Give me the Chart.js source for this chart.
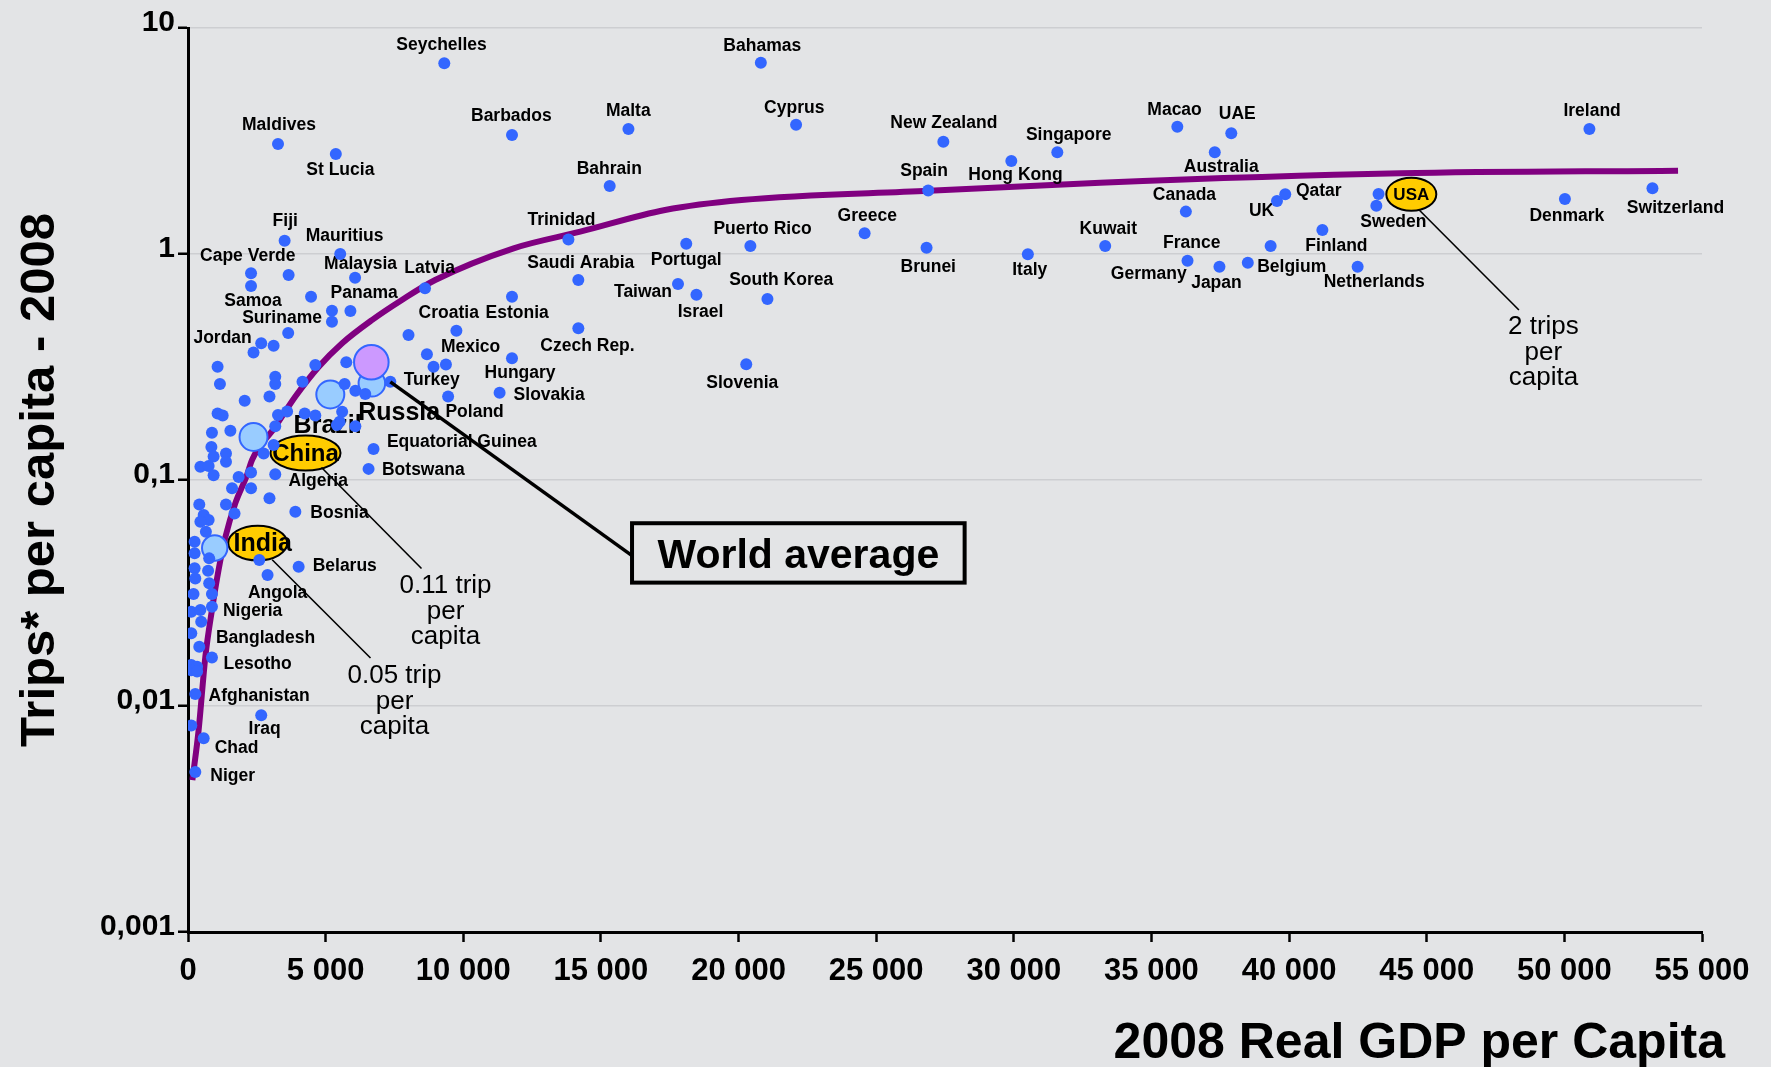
<!DOCTYPE html>
<html>
<head>
<meta charset="utf-8">
<title>Trips per capita vs 2008 real GDP per capita</title>
<script src="https://cdn.jsdelivr.net/npm/chart.js@4.4.1/dist/chart.umd.min.js"></script>
<style>
  html, body { margin: 0; padding: 0; background: #e3e4e6; }
  #wrap { width: 1771px; height: 1067px; }
</style>
</head>
<body>
<div id="wrap"><canvas id="tripsChart" width="1771" height="1067"></canvas></div>
<script>
// Values: GDP per capita (x) and trips per capita (y, log scale).

const countryNames = [
	'Seychelles', 'Bahamas', 'Maldives', 'St Lucia', 'Barbados', 'Malta', 'Cyprus',
	'New Zealand', 'Hong Kong', 'Singapore', 'Bahrain', 'Spain', 'Trinidad', 'Greece',
	'Portugal', 'Puerto Rico', 'Brunei', 'Italy', 'Kuwait', 'Saudi Arabia', 'Taiwan',
	'Israel', 'South Korea', 'Czech Rep.', 'Slovenia', 'Estonia', 'Latvia', 'Croatia',
	'Mexico', 'Hungary', 'Slovakia', 'Poland', 'Turkey', 'Equatorial Guinea', 'Botswana',
	'Fiji', 'Mauritius', 'Malaysia', 'Cape Verde', 'Samoa', 'Panama', 'Suriname', 'Jordan',
	'Macao', 'UAE', 'Australia', 'Ireland', 'Canada', 'UK', 'Qatar', 'Sweden', 'Denmark',
	'Switzerland', 'Finland', 'France', 'Japan', 'Belgium', 'Netherlands',
	'Algeria', 'Bosnia', 'Belarus', 'Angola', 'Nigeria', 'Bangladesh', 'Lesotho',
	'Afghanistan', 'Iraq', 'Chad', 'Niger'
];
const countryGdp = [
	9310, 20810, 3270, 5370, 11770, 16000, 22090,
	27440, 29910, 31580, 15320, 26890, 13820, 24580,
	18100, 20430, 26830, 30510, 33320, 14180, 17800,
	18470, 21050, 14180, 20280, 11770, 8610, 9750,
	9370, 11770, 11320, 9450, 7350, 6740, 6560,
	3510, 5530, 6070, 2290, 2290, 5900, 3640, 2660,
	35940, 37900, 37300, 50910, 36250, 39560, 39860, 43170, 50020,
	53200, 39330, 36310, 37470, 38500, 42490,
	3170, 3900, 4020, 2890, 870, 410, 870,
	265, 2660, 570, 265
];
const countryTrips = [
	6.98, 7.02, 3.07, 2.77, 3.36, 3.57, 3.73,
	3.14, 2.58, 2.82, 2.00, 1.91, 1.16, 1.235,
	1.11, 1.085, 1.066, 0.997, 1.085, 0.767, 0.737,
	0.66, 0.632, 0.469, 0.325, 0.647, 0.705, 0.458,
	0.324, 0.3455, 0.243, 0.234, 0.272, 0.137, 0.112,
	1.145, 1.0, 0.785, 0.821, 0.722, 0.56, 0.447, 0.403,
	3.66, 3.42, 2.82, 3.57, 1.54, 1.716, 1.837, 1.636, 1.752,
	1.955, 1.085, 0.934, 0.879, 0.915, 0.879,
	0.106, 0.0724, 0.0413, 0.038, 0.0275, 0.0183, 0.0164,
	0.0113, 0.0091, 0.0072, 0.0051
];

// countries plotted without a name
const otherGdp = [
	43250, 41210, 2590, 120, 3655, 4470, 5230, 5230, 3110, 2380,
	8010, 8680, 8920, 1075, 4625, 5750, 3170, 1160, 3170, 4160,
	5690, 6080, 6440, 2060, 2960, 1075, 1260, 3270, 3600, 4240,
	4625, 5600, 5510, 5410, 6080, 870, 1540, 3170, 850, 930,
	1380, 1380, 450, 750, 3110, 2750, 2290, 1840, 930, 1600,
	2290, 2960, 410, 1380, 1690, 570, 750, 450, 650, 240,
	240, 770, 240, 730, 265, 770, 200, 870, 120, 450,
	480, 120, 120, 330, 120, 330
];
const otherTrips = [
	1.843, 1.277, 0.0443, 0.0082, 0.807, 0.647, 0.561, 0.502, 0.393, 0.367,
	0.438, 0.36, 0.317, 0.317, 0.323, 0.332, 0.2865, 0.266, 0.266, 0.272,
	0.266, 0.248, 0.240, 0.224, 0.234, 0.197, 0.193, 0.194, 0.201, 0.197,
	0.193, 0.2005, 0.181, 0.175, 0.173, 0.162, 0.165, 0.173, 0.140, 0.127,
	0.131, 0.1205, 0.1145, 0.1153, 0.143, 0.131, 0.108, 0.103, 0.105, 0.092,
	0.092, 0.083, 0.078, 0.078, 0.071, 0.070, 0.0665, 0.0654, 0.059, 0.0533,
	0.0474, 0.045, 0.0407, 0.0397, 0.0367, 0.0349, 0.0313, 0.0313, 0.0261, 0.0266,
	0.0236, 0.021, 0.0152, 0.0149, 0.0144, 0.0142
];

// large bubbles (World drawn last so it sits on top)
const bubbleNames = ['Russia', 'Brazil', 'China', 'India', 'World'];
const bubbleGdp = [6680, 5170, 2380, 970, 6660];
const bubbleTrips = [0.268, 0.239, 0.155, 0.050, 0.332];

const usaGdp = 44440;
const usaTrips = 1.84;

// world average curve
const averageGdp = [
	160, 385, 630, 870, 1110, 1360, 1720, 2140, 2330, 3170, 3900, 4750,
	5600, 6680, 7770, 8980, 11830, 14250, 17330, 20110, 26920, 33140, 44030, 54130
];
const averageTrips = [
	0.0047, 0.0078, 0.0165, 0.0266, 0.040, 0.056, 0.079, 0.105, 0.123, 0.172, 0.234, 0.317,
	0.403, 0.51, 0.626, 0.767, 1.06, 1.255, 1.566, 1.734, 1.905, 2.068, 2.275, 2.337
];

const xTicks = [0, 5000, 10000, 15000, 20000, 25000, 30000, 35000, 40000, 45000, 50000, 55000];
const yTicks = [0.001, 0.01, 0.1, 1, 10];

const xTitle = '2008 Real GDP per Capita';
const yTitle = 'Trips* per capita - 2008';


// ---- placement / style (pixels) ----
const FONT = 'Arial, "Liberation Sans", Helvetica, sans-serif';

// offset from the dot centre to the left end of the label's baseline
const labelOffsets = {
	'Seychelles': [-48, -13], 'Bahamas': [-37.5, -12], 'Maldives': [-36, -14],
	'St Lucia': [-29.5, 21], 'Barbados': [-41, -14], 'Malta': [-22.5, -13],
	'Cyprus': [-32, -12], 'New Zealand': [-53, -13.4], 'Hong Kong': [-43, 19],
	'Singapore': [-31.4, -12.3], 'Bahrain': [-33, -12], 'Spain': [-28, -14.7],
	'Trinidad': [-41, -14.3], 'Greece': [-27, -12.3], 'Portugal': [-35.5, 21.3],
	'Puerto Rico': [-37, -12], 'Brunei': [-26, 24], 'Italy': [-15.6, 20.7],
	'Kuwait': [-25.6, -11.7], 'Saudi Arabia': [-51, -12.3], 'Taiwan': [-64, 12.7],
	'Israel': [-18.8, 22], 'South Korea': [-38.3, -14], 'Czech Rep.': [-38, 22.4],
	'Slovenia': [-40, 24], 'Estonia': [-26.4, 21], 'Latvia': [-20.7, -15],
	'Croatia': [-37.8, -13], 'Mexico': [-5, -13], 'Hungary': [-27.4, 19.4],
	'Slovakia': [14, 7.3], 'Poland': [-2.7, 20], 'Turkey': [13.3, 3.3],
	'Equatorial Guinea': [13.4, -2.6], 'Botswana': [13.4, 6.3], 'Fiji': [-12, -14.7],
	'Mauritius': [-34.6, -13.3], 'Malaysia': [-31, -8.4], 'Cape Verde': [-51, -12.3],
	'Samoa': [-26.8, 19.7], 'Panama': [-19.8, -13.3], 'Suriname': [-46, -9.7],
	'Jordan': [-67.8, -0.6], 'Macao': [-30, -11.7], 'UAE': [-12.5, -14.3],
	'Australia': [-31, 19.4], 'Ireland': [-26, -13.3], 'Canada': [-33, -11.7],
	'UK': [-28, 14.7], 'Qatar': [10.7, 1.7], 'Sweden': [-16, 21],
	'Denmark': [-35.5, 21.7], 'Switzerland': [-25.6, 24.4], 'Finland': [34.7, 4.7],
	'France': [-24.4, -12.4], 'Germany': [-76.7, 17.8], 'Japan': [-28.3, 21.8],
	'Belgium': [9.4, 9], 'Netherlands': [-34, 20.6], 'Algeria': [13.3, 11.7],
	'Bosnia': [15, 6.6], 'Belarus': [14, 4], 'Angola': [-19.6, 22.7],
	'Nigeria': [11, 9], 'Bangladesh': [16.7, -3.4], 'Lesotho': [11.6, 11.6],
	'Afghanistan': [13.3, 6.7], 'Iraq': [-12.7, 18.3], 'Chad': [11, 15], 'Niger': [15, 9]
};
// labels whose dot is hidden under another country's dot
const labelAnchors = { 'Germany': 'France' };

const bigLabelOffsets = { 'Russia': [-13.7, 36.7], 'Brazil': [-36.7, 39] };

const bubbleStyle = {
	World: { r: 17.3, fill: '#cc99ff' },
	Russia: { r: 13.3, fill: '#99ccff' },
	Brazil: { r: 14, fill: '#99ccff' },
	China: { r: 14, fill: '#99ccff' },
	India: { r: 12.7, fill: '#99ccff' }
};

// yellow name tags: centre offset from their point, radii, font size
const tagShapes = {
	China: { dx: 52, dy: 16, rx: 35, ry: 17.5, size: 24, textDx: 0 },
	India: { dx: 43, dy: -5, rx: 29.5, ry: 17.3, size: 25, textDx: 5 },
	USA: { dx: 0, dy: 0, rx: 25, ry: 16.5, size: 17, textDx: 0 }
};

// thin leader lines from a tag down to a note; all relative to the tag centre
const callouts = [
	{ tag: 'China', lines: ['0.11 trip', 'per', 'capita'], from: [16, 14.5], to: [116, 115.5], text: [140, 140.5] },
	{ tag: 'India', lines: ['0.05 trip', 'per', 'capita'], from: [14.5, 16.7], to: [112.8, 115], text: [136.8, 140] },
	{ tag: 'USA', lines: ['2 trips', 'per', 'capita'], from: [7.9, 15.8], to: [107.6, 115.8], text: [132.1, 140.1] }
];

// World average box, relative to the World bubble
const worldBox = { from: [19, 19.7], to: [261, 193.7], left: 260.7, top: 161, w: 332.6, h: 59.4, textX: 427, textY: 206 };


function toPixel(chart, gdp, trips) {
	return [chart.scales.x.getPixelForValue(gdp), chart.scales.y.getPixelForValue(trips)];
}

function tagCenter(chart, name) {
	const s = tagShapes[name];
	let p;
	if (name === 'USA') {
		p = toPixel(chart, usaGdp, usaTrips);
	} else {
		const i = bubbleNames.indexOf(name);
		p = toPixel(chart, bubbleGdp[i], bubbleTrips[i]);
	}
	return [p[0] + s.dx, p[1] + s.dy];
}

function drawLabelsAndTags(chart) {
	const ctx = chart.ctx;
	ctx.save();
	ctx.fillStyle = '#000';
	ctx.textAlign = 'left';
	ctx.textBaseline = 'alphabetic';

	ctx.font = `bold 17.5px ${FONT}`;
	for (const [name, [dx, dy]] of Object.entries(labelOffsets)) {
		const i = countryNames.indexOf(labelAnchors[name] || name);
		if (i < 0) continue;
		const [x, y] = toPixel(chart, countryGdp[i], countryTrips[i]);
		ctx.fillText(name, x + dx, y + dy);
	}

	ctx.font = `bold 25px ${FONT}`;
	for (const [name, [dx, dy]] of Object.entries(bigLabelOffsets)) {
		const i = bubbleNames.indexOf(name);
		const [x, y] = toPixel(chart, bubbleGdp[i], bubbleTrips[i]);
		ctx.fillText(name, x + dx, y + dy);
	}

	for (const name of Object.keys(tagShapes)) {
		const s = tagShapes[name];
		const [cx, cy] = tagCenter(chart, name);
		ctx.beginPath();
		ctx.ellipse(cx, cy, s.rx, s.ry, 0, 0, Math.PI * 2);
		ctx.fillStyle = '#ffcc00';
		ctx.fill();
		ctx.lineWidth = 2;
		ctx.strokeStyle = '#000';
		ctx.stroke();
		ctx.fillStyle = '#000';
		ctx.font = `bold ${s.size}px ${FONT}`;
		ctx.textAlign = 'center';
		ctx.textBaseline = 'middle';
		ctx.fillText(name, cx + s.textDx, cy + 1);
	}
	ctx.restore();
}

function drawCallouts(chart) {
	const ctx = chart.ctx;
	ctx.save();
	ctx.strokeStyle = '#000';
	ctx.fillStyle = '#000';

	for (const c of callouts) {
		const [cx, cy] = tagCenter(chart, c.tag);
		ctx.lineWidth = 1.6;
		ctx.beginPath();
		ctx.moveTo(cx + c.from[0], cy + c.from[1]);
		ctx.lineTo(cx + c.to[0], cy + c.to[1]);
		ctx.stroke();
		ctx.font = `26px ${FONT}`;
		ctx.textAlign = 'center';
		ctx.textBaseline = 'alphabetic';
		c.lines.forEach((t, k) => ctx.fillText(t, cx + c.text[0], cy + c.text[1] + k * 25.5));
	}

	const w = bubbleNames.indexOf('World');
	const [wx, wy] = toPixel(chart, bubbleGdp[w], bubbleTrips[w]);
	ctx.lineWidth = 3.5;
	ctx.beginPath();
	ctx.moveTo(wx + worldBox.from[0], wy + worldBox.from[1]);
	ctx.lineTo(wx + worldBox.to[0], wy + worldBox.to[1]);
	ctx.stroke();
	ctx.lineWidth = 4;
	ctx.strokeRect(wx + worldBox.left, wy + worldBox.top, worldBox.w, worldBox.h);
	ctx.font = `bold 41px ${FONT}`;
	ctx.textAlign = 'center';
	ctx.fillText('World average', wx + worldBox.textX, wy + worldBox.textY);
	ctx.restore();
}

function drawAxisTitles(chart) {
	const ctx = chart.ctx;
	const area = chart.chartArea;
	ctx.save();
	ctx.fillStyle = '#000';
	ctx.font = `bold 50px ${FONT}`;
	ctx.textAlign = 'right';
	ctx.textBaseline = 'alphabetic';
	ctx.fillText(xTitle, area.right + 23, chart.height - 9);

	ctx.translate(54, (area.top + area.bottom) / 2);
	ctx.rotate(-Math.PI / 2);
	ctx.font = `bold 49px ${FONT}`;
	ctx.textAlign = 'center';
	ctx.fillText(yTitle, 0, 0);
	ctx.restore();
}

const annotationPlugin = {
	id: 'tripAnnotations',
	afterDatasetDraw(chart, args) {
		// names and tags go above the curve but under the dots
		if (chart.data.datasets[args.index].label === 'World average curve') drawLabelsAndTags(chart);
	},
	afterDatasetsDraw(chart) {
		drawCallouts(chart);
		drawAxisTitles(chart);
	}
};

function formatGdp(v) {
	return v === 0 ? '0' : `${v / 1000} 000`;
}

function formatTrips(v) {
	return String(v).replace('.', ',');
}

const dotPoints = countryGdp.map((g, i) => ({ x: g, y: countryTrips[i] }))
	.concat(otherGdp.map((g, i) => ({ x: g, y: otherTrips[i] })));

new Chart(document.getElementById('tripsChart'), {
	type: 'scatter',
	data: {
		datasets: [
			{
				label: 'Countries',
				data: dotPoints,
				backgroundColor: '#3366ff',
				borderWidth: 0,
				pointRadius: 6,
				order: 1
			},
			{
				label: 'Large economies',
				data: bubbleGdp.map((g, i) => ({ x: g, y: bubbleTrips[i] })),
				backgroundColor: ctx => bubbleStyle[bubbleNames[ctx.dataIndex]].fill,
				pointRadius: ctx => bubbleStyle[bubbleNames[ctx.dataIndex]].r,
				borderColor: '#3366ff',
				borderWidth: 2,
				order: 2
			},
			{
				label: 'World average curve',
				data: averageGdp.map((g, i) => ({ x: g, y: averageTrips[i] })),
				showLine: true,
				borderColor: '#800080',
				borderWidth: 6,
				pointRadius: 0,
				cubicInterpolationMode: 'monotone',
				order: 3
			}
		]
	},
	options: {
		responsive: false,
		animation: false,
		devicePixelRatio: 1,
		layout: { padding: { top: 28, right: 69, left: 0, bottom: 0 } },
		plugins: {
			legend: { display: false },
			tooltip: { enabled: false }
		},
		scales: {
			x: {
				type: 'linear',
				min: 0,
				max: 55000,
				afterBuildTicks: scale => { scale.ticks = xTicks.map(v => ({ value: v })); },
				afterFit: scale => { scale.height = 135; },
				ticks: {
					callback: v => formatGdp(v),
					color: '#000',
					font: { family: FONT, size: 31, weight: 'bold' },
					padding: 11,
					maxRotation: 0
				},
				grid: {
					drawOnChartArea: false,
					tickLength: 10,
					tickColor: '#000',
					tickWidth: 2.5
				},
				border: { color: '#000', width: 3 }
			},
			y: {
				type: 'logarithmic',
				min: 0.001,
				max: 10,
				afterBuildTicks: scale => { scale.ticks = yTicks.map(v => ({ value: v })); },
				afterFit: scale => { scale.width = 188; },
				ticks: {
					callback: v => formatTrips(v),
					color: '#000',
					font: { family: FONT, size: 30, weight: 'bold' },
					padding: 3,
					labelOffset: -5
				},
				grid: {
					color: ctx => (ctx.tick && ctx.tick.value === 0.001 ? 'rgba(0,0,0,0)' : '#cdced1'),
					lineWidth: 1.5,
					tickLength: 10,
					tickColor: '#000',
					tickWidth: 2.5
				},
				border: { color: '#000', width: 3 }
			}
		}
	},
	plugins: [annotationPlugin]
});
</script>
</body>
</html>
